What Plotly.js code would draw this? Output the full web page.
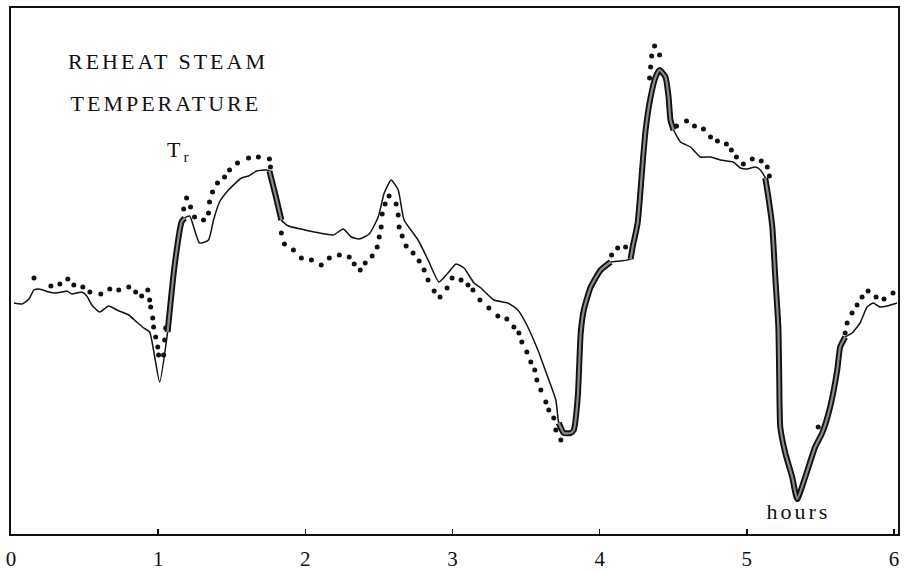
<!DOCTYPE html>
<html>
<head>
<meta charset="utf-8">
<script src="https://cdn.plot.ly/plotly-3.0.1.min.js"></script>
<style>
html,body{margin:0;padding:0;background:#fff;}
#chart{width:905px;height:572px;}
g.annotation text{letter-spacing:3px;}
</style>
</head>
<body>
<div id="chart"></div>
<script>
// time in hours
var solidX = [0.020,0.075,0.122,0.156,0.190,0.258,0.298,0.346,0.380,0.414,0.447,0.481,0.515,0.549,0.603,0.664,0.719,0.800,0.854,0.902,0.942,1.010,1.064,1.112,1.159,1.180,1.214,1.281,1.342,1.376,1.417,1.478,1.566,1.614,1.668,1.736,1.756,1.797,1.837,1.885,1.973,2.061,2.190,2.258,2.312,2.366,2.434,2.495,2.536,2.583,2.631,2.671,2.766,2.834,2.908,2.969,3.024,3.078,3.146,3.193,3.281,3.376,3.444,3.498,3.580,3.647,3.702,3.722,3.756,3.803,3.824,3.851,3.871,3.892,3.939,4.007,4.075,4.142,4.210,4.224,4.258,4.292,4.312,4.346,4.380,4.407,4.447,4.468,4.481,4.502,4.549,4.617,4.685,4.753,4.820,4.868,4.908,4.956,5.003,5.058,5.092,5.125,5.146,5.173,5.193,5.214,5.220,5.227,5.261,5.308,5.342,5.397,5.464,5.512,5.566,5.614,5.634,5.668,5.715,5.769,5.817,5.858,5.905,5.953,6.020];
var solidY = [231,230,235,244,245,242,241,242,243,240,241,242,238,229,222,228,224,219,212,206,202,152,202,269,312,316,318,291,294,314,332,344,356,358,363,364,363,339,314,308,305,302,299,305,297,295,300,317,341,354,344,314,294,274,252,261,270,266,251,246,234,231,224,211,184,157,134,111,101,101,104,137,201,224,247,264,272,273,275,287,311,371,404,437,457,464,457,437,414,404,392,387,377,377,374,373,372,366,365,367,364,356,337,307,257,207,157,107,81,57,35,57,87,101,127,164,187,197,201,211,227,231,227,228,231];

// intervals (hours) where the solid trace is drawn heavy
var heavyFrom = [1.064, 1.756, 3.722, 4.210, 5.125];
var heavyTo   = [1.180, 1.837, 4.075, 4.502, 5.668];

var dotX = [0.156,0.271,0.332,0.386,0.427,0.488,0.536,0.610,0.671,0.732,0.800,0.847,0.888,0.929,0.942,0.949,0.963,0.969,0.983,0.997,1.003,1.037,1.044,1.051,1.173,1.193,1.220,1.247,1.308,1.342,1.349,1.369,1.403,1.451,1.485,1.539,1.614,1.681,1.756,1.763,1.837,1.858,1.919,1.973,2.041,2.108,2.163,2.231,2.298,2.332,2.373,2.407,2.454,2.488,2.502,2.515,2.522,2.542,2.569,2.617,2.631,2.637,2.658,2.685,2.732,2.773,2.807,2.834,2.875,2.915,2.963,2.997,3.058,3.105,3.139,3.186,3.247,3.308,3.369,3.417,3.451,3.471,3.505,3.532,3.559,3.573,3.600,3.634,3.654,3.688,3.702,3.736,4.081,4.122,4.176,4.339,4.346,4.353,4.373,4.407,4.522,4.590,4.644,4.705,4.753,4.800,4.861,4.895,4.929,4.976,5.037,5.098,5.139,5.153,5.485,5.668,5.681,5.715,5.749,5.783,5.824,5.878,5.932,5.993];
var dotY = [256,248,250,255,249,247,242,240,245,244,247,242,238,244,234,227,216,207,197,187,179,179,194,206,325,336,327,317,314,321,332,342,351,357,364,371,376,377,375,367,301,290,284,276,274,269,276,279,277,270,264,271,278,287,297,307,320,330,338,330,319,307,298,288,281,273,264,254,243,237,246,256,254,249,244,234,226,218,215,207,201,192,182,172,164,154,144,132,124,116,104,94,279,286,287,456,467,478,488,479,408,413,408,405,397,393,390,384,377,370,375,373,367,358,107,201,211,221,229,237,243,237,235,241];

var tickVals = [0,1,2,3,4,5,6];
var tickText = ["0","1","2","3","4","5","6"];

var labels = [
  {text:"REHEAT STEAM", x:1.064, y:473},
  {text:"TEMPERATURE", x:1.051, y:431},
  {text:"T<sub>r</sub>", x:1.146, y:383},
  {text:"hours", x:5.349, y:23}
];

var hx = [], hy = [];
for (var k = 0; k < heavyFrom.length; k++) {
  for (var i = 0; i < solidX.length; i++) {
    if (solidX[i] >= heavyFrom[k] - 1e-9 && solidX[i] <= heavyTo[k] + 1e-9) {
      hx.push(solidX[i]); hy.push(solidY[i]);
    }
  }
  hx.push(null); hy.push(null);
}

var serif = "Liberation Serif, Times New Roman, serif";

var traces = [
  {x: dotX, y: dotY, mode: "markers", type: "scatter",
   marker: {color: "#111", size: 5}, hoverinfo: "skip"},
  {x: solidX, y: solidY, mode: "lines", type: "scatter",
   line: {color: "#111", width: 1.5, shape: "spline", smoothing: 0.5}, hoverinfo: "skip"},
  {x: hx, y: hy, mode: "lines", type: "scatter", connectgaps: false,
   line: {color: "#111", width: 6, shape: "spline", smoothing: 0.5}, hoverinfo: "skip"},
  {x: hx, y: hy, mode: "lines", type: "scatter", connectgaps: false,
   line: {color: "#8c8c8c", width: 2.2, shape: "spline", smoothing: 0.5}, hoverinfo: "skip"}
];

var layout = {
  width: 905, height: 572,
  margin: {l: 11, r: 7, t: 8, b: 38},
  paper_bgcolor: "#fff", plot_bgcolor: "#fff",
  showlegend: false,
  xaxis: {
    range: [0, 6.027], showgrid: false, zeroline: false,
    showline: true, mirror: true, linecolor: "#111", linewidth: 2,
    ticks: "inside", ticklen: 5, tickcolor: "#111", tickwidth: 1.5,
    tickvals: tickVals, ticktext: tickText, ticklabelstandoff: 5,
    tickfont: {family: serif, size: 21, color: "#111"}
  },
  yaxis: {
    range: [0, 526], showgrid: false, zeroline: false,
    showline: true, mirror: true, linecolor: "#111", linewidth: 2,
    ticks: "", showticklabels: false
  },
  annotations: labels.map(function (a) {
    return {text: a.text, x: a.x, y: a.y, xref: "x", yref: "y",
      showarrow: false, xanchor: "center", yanchor: "middle",
      font: {family: serif, size: 22, color: "#111"}};
  })
};

Plotly.newPlot("chart", traces, layout, {staticPlot: true, displayModeBar: false});
</script>
</body>
</html>
